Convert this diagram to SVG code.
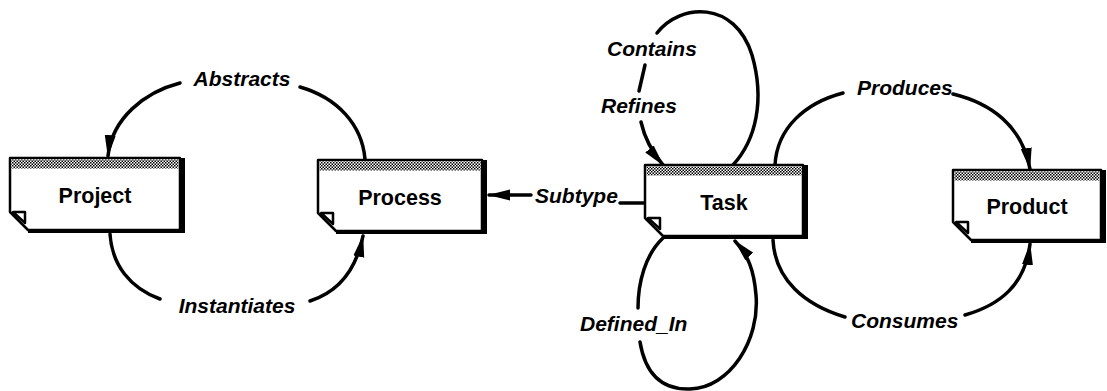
<svg xmlns="http://www.w3.org/2000/svg" width="1107" height="391" viewBox="0 0 1107 391">
<defs>
<pattern id="hatch" width="3" height="3" patternUnits="userSpaceOnUse">
<rect width="3" height="3" fill="#fff"/>
<rect width="1.5" height="1.5" fill="#000"/>
<rect x="1.5" y="1.5" width="1.5" height="1.5" fill="#000"/>
</pattern>
<marker id="arr" viewBox="0 0 22 12" refX="21" refY="6" markerWidth="22" markerHeight="12" markerUnits="userSpaceOnUse" orient="auto">
<path d="M0,0.5 L22,6 L0,11.5 Z" fill="#000"/>
</marker>
<style>
.body{fill:#fff;stroke:#000;stroke-width:2.5;stroke-linejoin:round}
.shadow{fill:#000}
.band{fill:url(#hatch)}
.flap{fill:#fff;stroke:#000;stroke-width:2.5;stroke-linejoin:round}
.name{font-family:"Liberation Sans",Arial,sans-serif;font-size:21.5px;font-weight:bold;text-anchor:middle;fill:#000}
.lbl{font-family:"Liberation Sans",Arial,sans-serif;font-size:21px;font-weight:bold;font-style:italic;fill:#000}
.c{fill:none;stroke:#000;stroke-width:3.5;stroke-linecap:round}
.ca{fill:none;stroke:#000;stroke-width:3.5;stroke-linecap:round;marker-end:url(#arr)}
</style>
</defs>
<rect width="1107" height="391" fill="#fff"/>

<g id="connectors">
<path class="ca" d="M180,83 C145,92 112,118 108,156"/>
<path class="c" d="M300,87 C338,98 362,125 365,159"/>
<path class="c" d="M110,234 C112,265 130,288 160,299"/>
<path class="ca" d="M310,301 C335,293 355,275 363,236"/>
<path class="ca" d="M531,195 H489"/>
<path class="c" d="M620,203 H645"/>
<path class="c" d="M657,33 C680,3 735,0 752,55 C765,100 756,140 733,165"/>
<path class="c" d="M645,65 L639,91"/>
<path class="ca" d="M641,122 C645,140 652,152 663,165"/>
<path class="c" d="M663,238 C645,255 638,283 638,308"/>
<path class="ca" d="M640,342 C645,372 660,390 690,389 C730,388 760,340 756,295 C754,270 748,255 735,241"/>
<path class="c" d="M775,165 C777,128 805,103 843,93"/>
<path class="ca" d="M953,94 C990,103 1022,125 1030,169"/>
<path class="c" d="M773,240 C775,280 805,305 845,317"/>
<path class="ca" d="M965,315 C1000,305 1025,285 1030,244"/>
</g>

<g id="labels">
<text class="lbl" x="242" y="86" text-anchor="middle">Abstracts</text>
<text class="lbl" x="237" y="313" text-anchor="middle">Instantiates</text>
<text class="lbl" x="535" y="203">Subtype</text>
<text class="lbl" x="607" y="56">Contains</text>
<text class="lbl" x="601" y="113">Refines</text>
<text class="lbl" x="580" y="331">Defined_In</text>
<text class="lbl" x="857" y="95">Produces</text>
<text class="lbl" x="851" y="328">Consumes</text>
</g>

<g id="project">
<path class="body" d="M10,158 H180 V230 H28 L10,212 Z"/>
<rect class="band" x="11.5" y="159.5" width="167" height="9"/>
<rect class="shadow" x="179" y="158" width="6" height="75"/>
<rect class="shadow" x="28" y="229" width="157" height="4"/>
<path class="flap" d="M13,212 H25 V223 Z"/>
<text class="name" x="95" y="203">Project</text>
</g>

<g id="process">
<path class="body" d="M318,160 H482 V231 H336 L318,213 Z"/>
<rect class="band" x="319.5" y="161.5" width="161" height="9"/>
<rect class="shadow" x="481" y="160" width="6" height="74"/>
<rect class="shadow" x="336" y="230" width="151" height="4"/>
<path class="flap" d="M321,213 H333 V224 Z"/>
<text class="name" x="400" y="205">Process</text>
</g>

<g id="task">
<path class="body" d="M645,165 H803 V236 H663 L645,218 Z"/>
<rect class="band" x="646.5" y="166.5" width="155" height="9"/>
<rect class="shadow" x="802" y="165" width="6" height="74"/>
<rect class="shadow" x="663" y="235" width="145" height="4"/>
<path class="flap" d="M648,218 H660 V229 Z"/>
<text class="name" x="724" y="210">Task</text>
</g>

<g id="product">
<path class="body" d="M953,170 H1101 V240 H971 L953,222 Z"/>
<rect class="band" x="954.5" y="171.5" width="145" height="9"/>
<rect class="shadow" x="1100" y="170" width="6" height="73"/>
<rect class="shadow" x="971" y="239" width="135" height="4"/>
<path class="flap" d="M956,222 H968 V233 Z"/>
<text class="name" x="1027" y="214">Product</text>
</g>
</svg>
